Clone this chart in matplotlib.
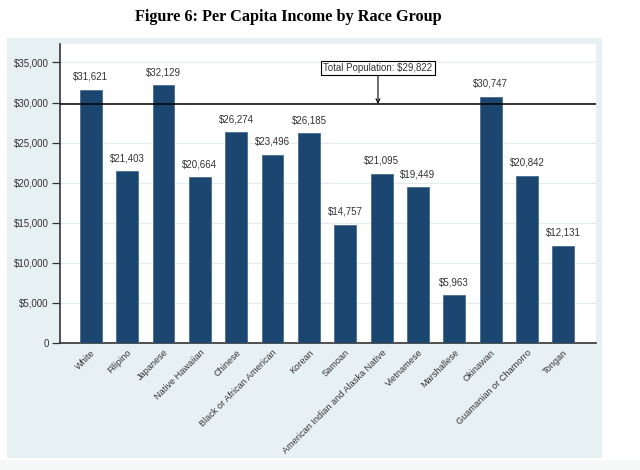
import matplotlib
matplotlib.use("Agg")
import matplotlib.pyplot as plt
from matplotlib.patches import Rectangle
from matplotlib.ticker import FuncFormatter

categories = ["White", "Filipino", "Japanese", "Native Hawaiian", "Chinese",
              "Black or African American", "Korean", "Samoan",
              "American Indian and Alaska Native", "Vietnamese", "Marshallese",
              "Okinawan", "Guamanian or Chamorro", "Tongan"]
income = [31621, 21403, 32129, 20664, 26274, 23496, 26185, 14757,
          21095, 19449, 5963, 30747, 20842, 12131]
total_population = 29822
yticks = [0, 5000, 10000, 15000, 20000, 25000, 30000, 35000]

plt.rcParams['font.family'] = ['Liberation Sans', 'DejaVu Sans']

W, H = 640, 470
fig = plt.figure(figsize=(6.4, 4.7), dpi=100, facecolor="white")

panel_col = "#e7f0f2"
# panel background
fig.patches.append(Rectangle((7 / W, 1 - 458 / H), (602 - 7) / W, (458 - 38) / H,
                             transform=fig.transFigure, facecolor=panel_col,
                             edgecolor="none", zorder=-5))
# light bottom strip
fig.patches.append(Rectangle((0, 0), 1, 1 - 460 / H, transform=fig.transFigure,
                             facecolor="#f6f7f7", edgecolor="none", zorder=-5))

ax = fig.add_axes([60 / W, 1 - 343 / H, (596 - 60) / W, (343 - 44) / H])
ax.set_facecolor("white")

x = list(range(len(categories)))
ax.bar(x, income, width=0.6, color="#1a4670", edgecolor="#4a6e90",
       linewidth=0.6, zorder=3)

for xi, v in zip(x, income):
    ax.text(xi, v + 1000, "${:,}".format(v), ha="center", va="bottom",
            fontsize=7, color="#333333", zorder=4)

ax.axhline(total_population, color="black", linewidth=1.1, zorder=4)

ax.annotate("Total Population: ${:,}".format(total_population),
            xy=(7.9, total_population), xytext=(7.9, 34300),
            ha="center", va="center", fontsize=7, color="#333333",
            bbox=dict(boxstyle="square,pad=0.25", fc="white", ec="black", lw=0.8),
            arrowprops=dict(arrowstyle="->", color="black", lw=0.8,
                            shrinkA=0, shrinkB=0),
            zorder=5)

ax.set_xlim(-0.85, 13.9)
ax.set_ylim(0, 37300)
ax.set_yticks(yticks)
ax.yaxis.set_major_formatter(FuncFormatter(
    lambda v, p: "0" if v == 0 else "${:,.0f}".format(v)))
ax.yaxis.grid(True, color="#e3ecef", linewidth=0.8, zorder=0)
ax.set_axisbelow(True)

ax.set_xticks(x)
ax.set_xticklabels(categories, rotation=45, ha="right", rotation_mode="anchor",
                   fontsize=6.6, color="#333333")
ax.tick_params(axis="x", length=0, pad=3.5)
ax.tick_params(axis="y", labelsize=7, length=6, width=0.9, colors="#333333",
               direction="out", pad=2)

for s in ["top", "right"]:
    ax.spines[s].set_visible(False)
ax.spines["left"].set_color("#333333")
ax.spines["bottom"].set_color("#333333")
ax.spines["left"].set_linewidth(1.2)
ax.spines["bottom"].set_linewidth(1.2)

fig.text(288 / W, 1 - 17 / H, "Figure 6: Per Capita Income by Race Group",
         ha="center", va="center", fontsize=11.7, fontweight="bold",
         family=["Liberation Serif", "DejaVu Serif"], color="black")

fig.savefig("out.png", dpi=100, facecolor="white")
